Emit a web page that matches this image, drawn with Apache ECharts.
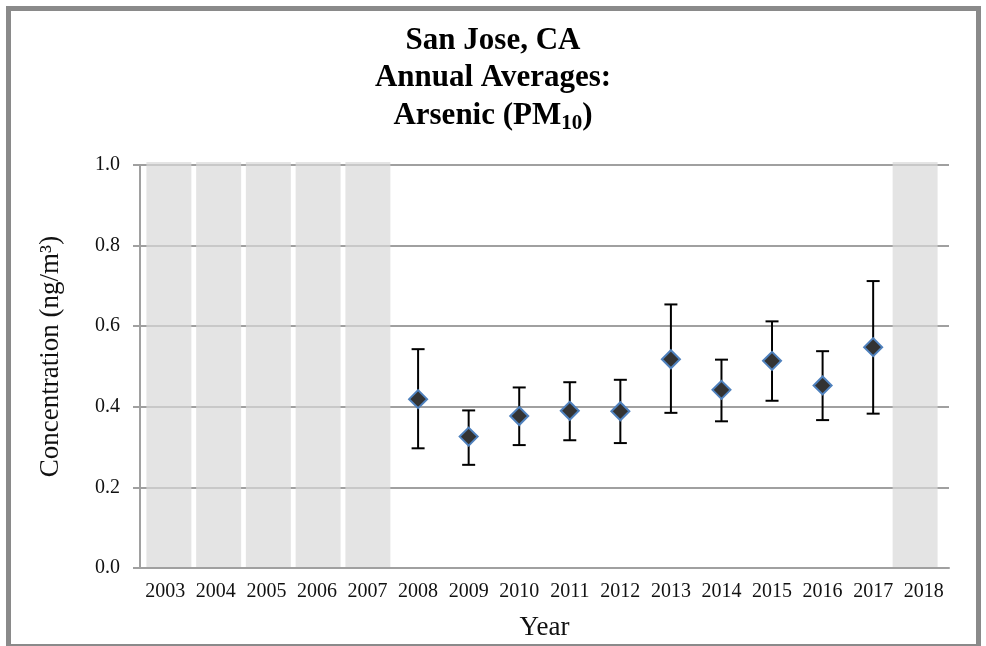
<!DOCTYPE html>
<html>
<head>
<meta charset="utf-8">
<style>
  html, body { margin: 0; padding: 0; background: #ffffff; }
  #chart { width: 986px; height: 646px; }
</style>
<script src="https://cdn.jsdelivr.net/npm/echarts@6/dist/echarts.min.js"></script>
</head>
<body>
<div id="chart"></div>
<script>
// Sampling years on the category axis
const years = ['2003', '2004', '2005', '2006', '2007', '2008', '2009', '2010',
               '2011', '2012', '2013', '2014', '2015', '2016', '2017', '2018'];

// Years without a valid annual average (shaded full-height)
const noDataYears = ['2003', '2004', '2005', '2006', '2007', '2018'];

// Annual average arsenic (PM10) concentration, ng/m3
const annualMean = [null, null, null, null, null, 0.419, 0.326, 0.377,
                    0.390, 0.389, 0.518, 0.442, 0.514, 0.453, 0.548, null];

// 95% confidence interval bounds
const ciLower = [null, null, null, null, null, 0.297, 0.256, 0.305,
                 0.317, 0.310, 0.385, 0.364, 0.415, 0.367, 0.383, null];
const ciUpper = [null, null, null, null, null, 0.543, 0.391, 0.448,
                 0.461, 0.467, 0.654, 0.517, 0.612, 0.538, 0.712, null];

// Y-axis tick settings
const yMin = 0, yMax = 1.0, yStep = 0.2;

const FONT = '"Liberation Serif", "Times New Roman", serif';
const GRID_GRAY = '#a0a0a0';

const shadeData = years.map(y => noDataYears.includes(y) ? 1 : '-');
const meanData = annualMean.map((v, i) => v == null ? [i, '-'] : [i, v]);
const errData = [];
annualMean.forEach((v, i) => {
  if (v != null) errData.push([i, ciLower[i], ciUpper[i]]);
});

const chart = echarts.init(document.getElementById('chart'), null, { renderer: 'canvas' });

chart.setOption({
  animation: false,
  backgroundColor: '#ffffff',
  title: {
    left: 'center',
    top: 17,
    text: '{t|San Jose, CA}\n{t|Annual Averages:}\n{t|Arsenic (PM}{s|10}{t|)}',
    textStyle: {
      rich: {
        t: { fontFamily: FONT, fontWeight: 'bold', fontSize: 31, color: '#000', lineHeight: 37.5 },
        s: { fontFamily: FONT, fontWeight: 'bold', fontSize: 21, color: '#000', lineHeight: 37.5, padding: [15, 0, 0, 0] }
      }
    }
  },
  grid: [
    { left: 140, right: 37, top: 165, bottom: 78 },
    { left: 144, right: 46, top: 162, bottom: 78 }
  ],
  xAxis: [
    {
      type: 'category',
      gridIndex: 0,
      data: years,
      boundaryGap: true,
      name: 'Year',
      nameLocation: 'middle',
      nameGap: 46,
      nameTextStyle: { fontFamily: FONT, fontSize: 27, color: '#111' },
      axisLine: { lineStyle: { color: GRID_GRAY, width: 2 } },
      axisTick: { length: 6, lineStyle: { color: GRID_GRAY, width: 2 } },
      axisLabel: { fontFamily: FONT, fontSize: 20, color: '#111', margin: 14, interval: 0 },
      splitLine: { show: false },
      z: 5
    },
    {
      type: 'category',
      gridIndex: 1,
      data: years,
      show: false
    }
  ],
  yAxis: [
    {
      type: 'value',
      gridIndex: 0,
      min: yMin,
      max: yMax,
      interval: yStep,
      name: 'Concentration (ng/m³)',
      nameLocation: 'middle',
      nameRotate: 90,
      nameGap: 76,
      nameTextStyle: { fontFamily: FONT, fontSize: 27, color: '#111', padding: [0, 0, 0, 20] },
      axisLine: { show: true, lineStyle: { color: GRID_GRAY, width: 2 } },
      axisTick: { show: true, length: 7, lineStyle: { color: GRID_GRAY, width: 2 } },
      axisLabel: {
        fontFamily: FONT, fontSize: 20, color: '#111', margin: 20,
        formatter: v => v.toFixed(1)
      },
      splitLine: { show: true, lineStyle: { color: GRID_GRAY, width: 2 } }
    },
    {
      type: 'value',
      gridIndex: 1,
      min: 0,
      max: 1,
      show: false,
      splitLine: { show: false }
    }
  ],
  series: [
    {
      name: 'No data',
      type: 'bar',
      xAxisIndex: 1,
      yAxisIndex: 1,
      data: shadeData,
      barWidth: 45,
      itemStyle: { color: 'rgba(216,216,216,0.7)' },
      silent: true,
      z: 1
    },
    {
      name: '95% CI',
      type: 'custom',
      xAxisIndex: 0,
      yAxisIndex: 0,
      data: errData,
      z: 3,
      renderItem: function (params, api) {
        const x = api.value(0);
        const lo = api.coord([x, api.value(1)]);
        const hi = api.coord([x, api.value(2)]);
        const cap = 6.5;
        const style = { stroke: '#000', lineWidth: 2 };
        return {
          type: 'group',
          children: [
            { type: 'line', shape: { x1: lo[0], y1: lo[1], x2: hi[0], y2: hi[1] }, style },
            { type: 'line', shape: { x1: hi[0] - cap, y1: hi[1], x2: hi[0] + cap, y2: hi[1] }, style },
            { type: 'line', shape: { x1: lo[0] - cap, y1: lo[1], x2: lo[0] + cap, y2: lo[1] }, style }
          ]
        };
      }
    },
    {
      name: 'Annual average',
      type: 'scatter',
      xAxisIndex: 0,
      yAxisIndex: 0,
      data: meanData,
      symbol: 'diamond',
      symbolSize: [18, 18],
      itemStyle: { color: '#333333', borderColor: '#4f81bd', borderWidth: 2, opacity: 1 },
      z: 10
    }
  ],
  graphic: [
    {
      type: 'rect',
      shape: { x: 8.5, y: 8.5, width: 970, height: 638 },
      style: { fill: null, stroke: '#8a8a8a', lineWidth: 5 },
      silent: true,
      z: 100
    }
  ]
});
</script>
</body>
</html>
